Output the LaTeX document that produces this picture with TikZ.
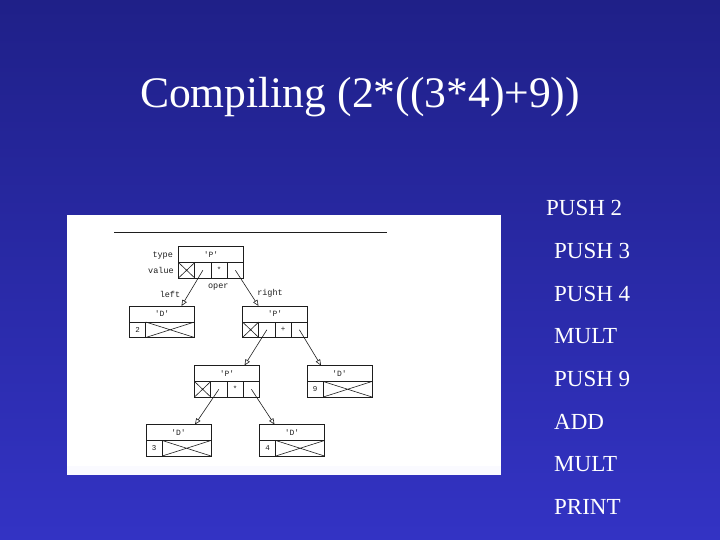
\documentclass[tikz,border=0pt]{standalone}
\usepackage{fontspec}
\setmainfont{Liberation Serif}
\newfontfamily\diagmono{Liberation Mono}
\usetikzlibrary{arrows.meta}
\definecolor{bgtop}{RGB}{31,32,136}
\definecolor{bgbot}{RGB}{51,51,196}
\definecolor{inkgray}{RGB}{30,30,30}
\newcommand\precbox[3]{%
  \node[headrow] (#1) at (#2) {'P'};
  \node[cell] (#1a) at (#1.south west) {};
  \node[cell] (#1b) at (#1a.north east) {};
  \node[cell] (#1c) at (#1b.north east) {#3};
  \node[cell] (#1d) at (#1c.north east) {};
  \draw[cross] (#1a.north west) -- (#1a.south east) (#1a.south west) -- (#1a.north east);
}
\newcommand\drecbox[3]{%
  \node[headrow] (#1) at (#2) {'D'};
  \node[cell] (#1a) at (#1.south west) {#3};
  \node[cell, minimum width=48.75pt] (#1b) at (#1a.north east) {};
  \draw[cross] (#1b.north west) -- (#1b.south east) (#1b.south west) -- (#1b.north east);
}
\begin{document}
\begin{tikzpicture}[x=1pt,y=-1pt,
  cell/.style={draw=inkgray, line width=0.8pt, minimum width=16.25pt, minimum height=15.5pt,
    inner sep=0pt, outer sep=0pt, anchor=north west, text=inkgray,
    font=\diagmono\fontsize{7.5}{8}\selectfont},
  headrow/.style={draw=inkgray, line width=0.8pt, minimum width=65pt, minimum height=16pt,
    inner sep=0pt, outer sep=0pt, anchor=north west, text=inkgray,
    font=\diagmono\fontsize{8}{9}\selectfont},
  lbl/.style={font=\diagmono\fontsize{8.5}{9}\selectfont, inner sep=0pt, text=inkgray},
  ptr/.style={draw=inkgray, line width=0.6pt, -{Triangle[open,length=6pt,width=5pt]}},
  cross/.style={draw=inkgray, line width=0.6pt},
  item/.style={text=white, font=\fontsize{23}{25}\selectfont, anchor=base west, inner sep=0pt}
]
\useasboundingbox (0,0) rectangle (720,540);
\shade[top color=bgtop, bottom color=bgbot] (0,0) rectangle (720,540);
\fill[white] (66.5,215.5) rectangle (501,474.5);
\fill[blue!2] (66.5,466) rectangle (501,474.5);

\node[text=white, font=\fontsize{43.6}{48}\selectfont, anchor=base, inner sep=0pt] (title) at (360,108) {Compiling (2*((3*4)+9))};

\coordinate (rulea) at (114,232);
\coordinate (ruleb) at (387,232);
\draw[inkgray, line width=0.9pt] (rulea) -- (ruleb);

\precbox{r}{178.5,246.5}{*}
\drecbox{dl}{129.5,306}{2}
\precbox{pr}{242.5,306}{+}
\precbox{pm}{194.5,365.5}{*}
\drecbox{dn}{307,365.5}{9}
\drecbox{dt}{146,424.5}{3}
\drecbox{df}{259.5,424.5}{4}

\node[lbl] (ltype) at (162.7,255.7) {type};
\node[lbl] (lvalue) at (161,270.7) {value};
\node[lbl] (loper) at (218.3,287.3) {oper};
\node[lbl] (lleft) at (170,294) {left};
\node[lbl] (lright) at (270,293) {right};

\draw[ptr] (rb.center) -- ([xshift=52pt]dl.north west);
\draw[ptr] (rd.center) -- ([xshift=16pt]pr.north west);
\draw[ptr] (prb.center) -- ([xshift=50pt]pm.north west);
\draw[ptr] (prd.center) -- ([xshift=14pt]dn.north west);
\draw[ptr] (pmb.center) -- ([xshift=49pt]dt.north west);
\draw[ptr] (pmd.center) -- ([xshift=15pt]df.north west);

\node[item] (i1) at (546,215.7) {PUSH 2};
\node[item] (i2) at (554,258.4) {PUSH 3};
\node[item] (i3) at (554,301) {PUSH 4};
\node[item] (i4) at (554,343.7) {MULT};
\node[item] (i5) at (554,386.4) {PUSH 9};
\node[item] (i6) at (554,429) {ADD};
\node[item] (i7) at (554,471.7) {MULT};
\node[item] (i8) at (554,514.4) {PRINT};
\end{tikzpicture}
\end{document}
